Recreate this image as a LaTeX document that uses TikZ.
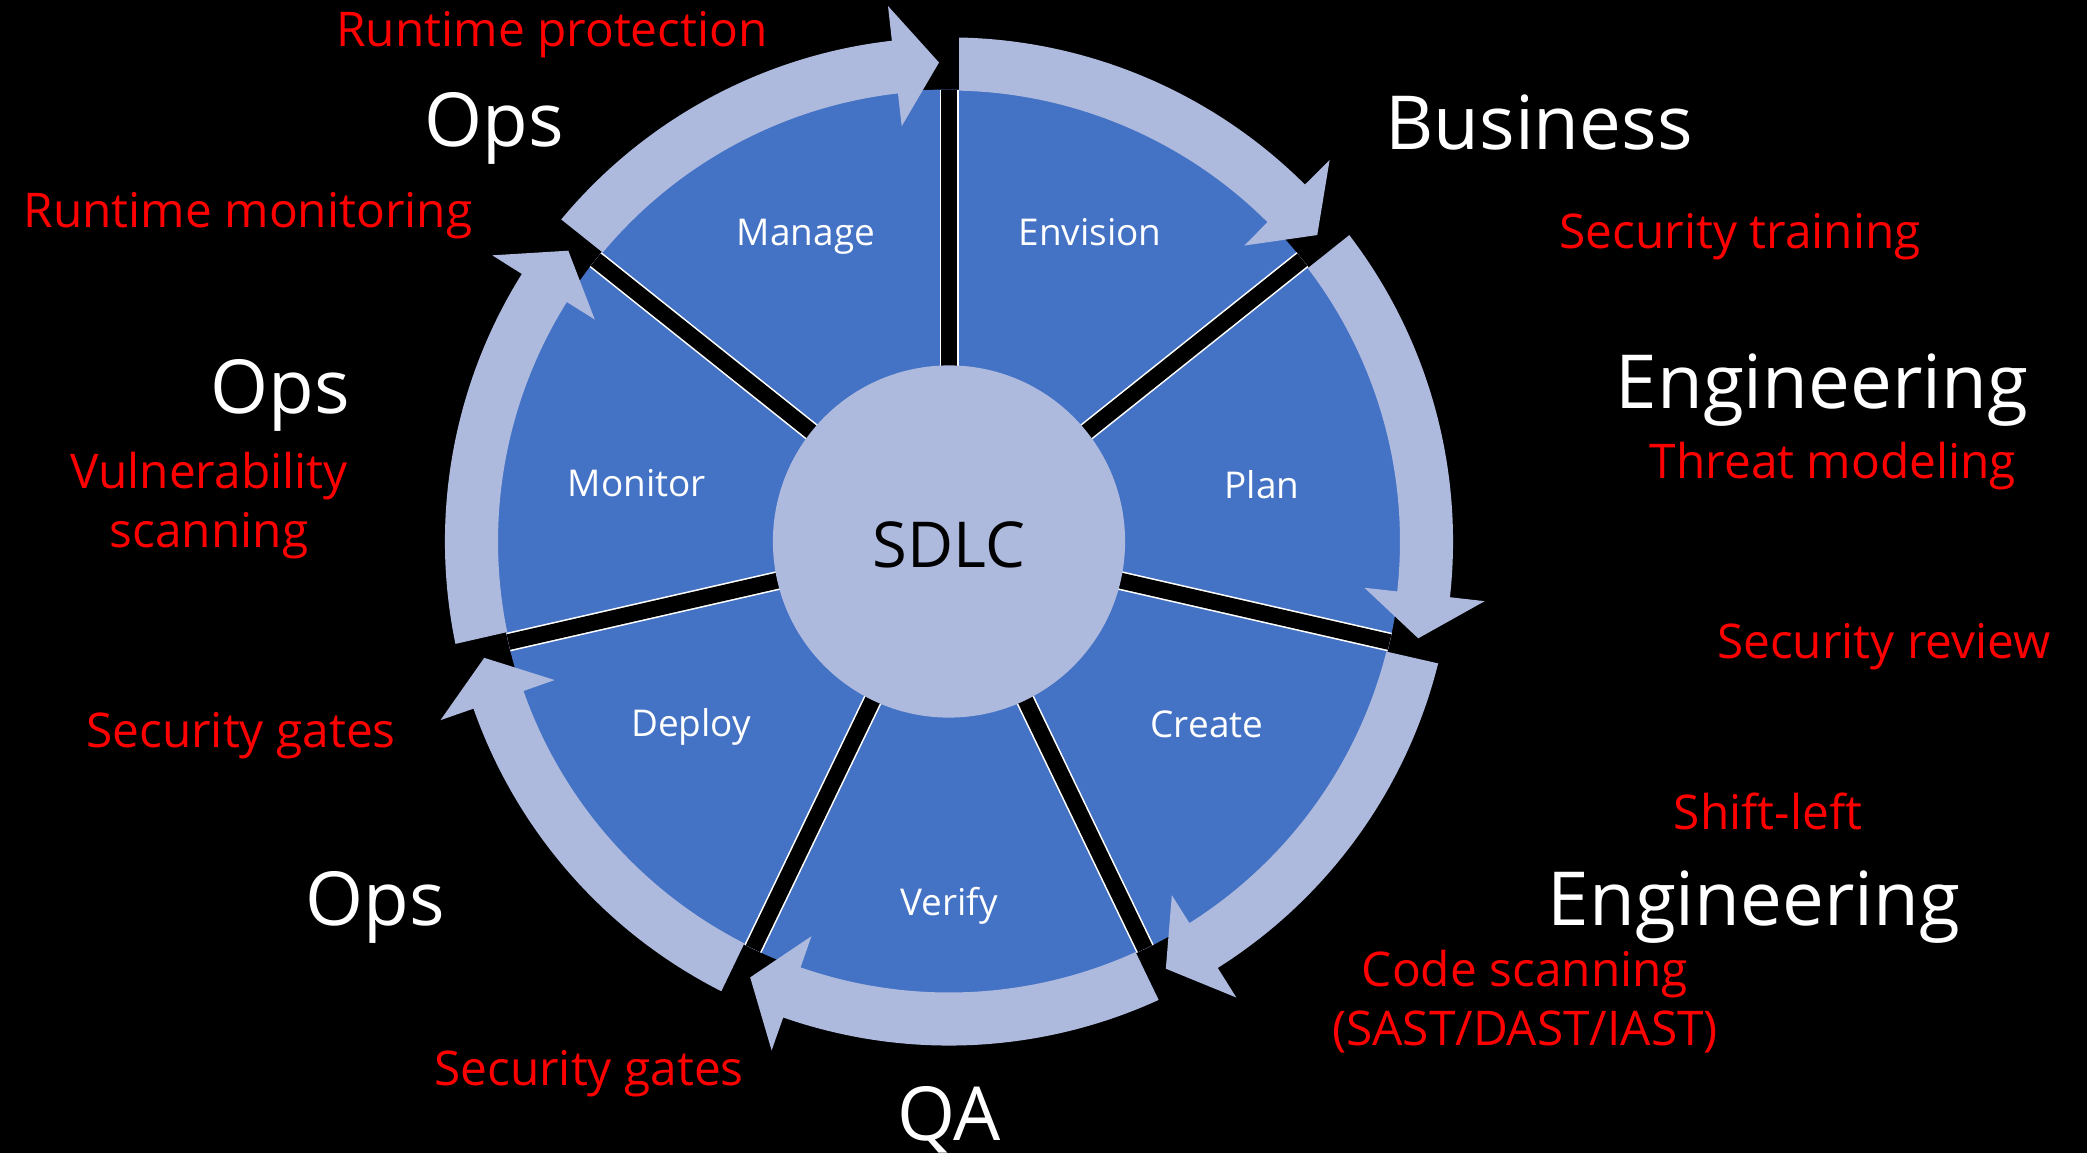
\documentclass[tikz,border=0pt]{standalone}
\usepackage{fontspec}
\setmainfont{Open Sans}
\usepackage{tikz}
\usetikzlibrary{calc}

\definecolor{wedgeblue}{HTML}{4472C4}
\definecolor{ringblue}{HTML}{ADB9DD}

\begin{document}
\begin{tikzpicture}[
    x=0.01cm, y=0.01cm,
    every node/.style={inner sep=0pt, anchor=base},
    phase/.style={
        text=white,
        font=\fontsize{10.5}{12}\selectfont
    },
    team/.style={
        text=white,
        font=\fontsize{21.2}{24}\selectfont
    },
    practice/.style={
        text=red,
        align=center,
        font=\fontsize{13.6}{16.5}\selectfont
    },
    hub/.style={
        circle,
        fill=ringblue,
        minimum size=3.52cm
    },
    ring/.style={fill=ringblue},
    divider/.style={draw=white, double=black, double distance=4.5pt, line width=0.45pt}
]

\useasboundingbox[fill=black] (0,0) rectangle (2087,1153);
\coordinate (c) at (949,611.5);

% wheel
\fill[wedgeblue] (c) circle[radius=452];
\foreach \k in {0,...,6}
    \draw[divider] (c) -- ($(c)+(90-\k*360/7:452)$);

\foreach \k in {0,...,6}{
    \pgfmathsetmacro{\d}{90-\k*360/7}
    \pgfmathsetmacro{\e}{\d-360/7}
    \fill[ring] ($(c)+(\d:451)+(\d-90:10)$) -- ($(c)+(\d:504)+(\d-90:10)$)
        arc[start angle=\d-1.14, end angle=\e+6.5, radius=504]
        -- ($(c)+(\e+6.5:539)$) -- ($(c)+(\e:479)+(\e+90:10)$)
        -- ($(c)+(\e+6.5:418)$) -- ($(c)+(\e+6.5:451)$)
        arc[start angle=\e+6.5, end angle=\d-1.27, radius=451] -- cycle;
}

\node[hub, anchor=center] (hubdisc) at (c) {};
\node[font=\fontsize{18}{22}\selectfont] (sdlc) at (949,586) {SDLC};

% phases
\node[phase] (envision) at (1090,908) {Envision};
\node[phase] (plan) at (1262,655) {Plan};
\node[phase] (create) at (1207,416) {Create};
\node[phase] (verify) at (949,238) {Verify};
\node[phase] (deploy) at (691,417) {Deploy};
\node[phase] (monitor) at (637,657) {Monitor};
\node[phase] (manage) at (806,908) {Manage};

% teams
\node[team] (opsmanage) at (494,1007) {Ops};
\node[team] (business) at (1539,1004) {Business};
\node[team] (engplan) at (1822,745) {Engineering};
\node[team] (opsmonitor) at (280,740) {Ops};
\node[team] (engcreate) at (1754,228) {Engineering};
\node[team] (opsdeploy) at (375,228) {Ops};
\node[team] (qa) at (949,13) {QA};

% security practices
\node[practice] (runprot) at (552,1107) {Runtime protection};
\node[practice] (runmon) at (248,926) {Runtime monitoring};
\node[practice] (sectrain) at (1740,905) {Security training};
\node[practice] (threat) at (1833,675) {Threat modeling};
\node[practice] (secreview) at (1884,495) {Security review};
\node[practice] (vulnscan) at (209,606) {Vulnerability\\ scanning};
\node[practice] (gatesdeploy) at (241,406) {Security gates};
\node[practice] (shiftleft) at (1768,324) {Shift-left};
\node[practice] (codescan) at (1525,108) {Code scanning\\ (SAST/DAST/IAST)};
\node[practice] (gatesverify) at (589,68) {Security gates};

\end{tikzpicture}
\end{document}
